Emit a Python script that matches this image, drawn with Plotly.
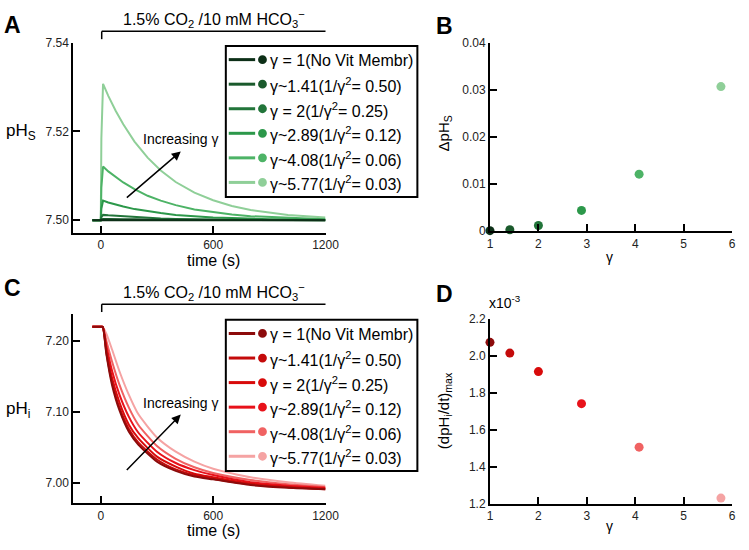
import plotly.graph_objects as go

W, H = 749, 550
FONT = "Arial, Liberation Sans, sans-serif"

# ---------------- data ----------------
gamma_vals = [1, 1.41, 2, 2.89, 4.08, 5.77]
legend_labels = [
    "γ = 1(No Vit Membr)",
    "γ~1.41(1/γ<sup>2</sup>= 0.50)",
    "γ = 2(1/γ<sup>2</sup>= 0.25)",
    "γ~2.89(1/γ<sup>2</sup>= 0.12)",
    "γ~4.08(1/γ<sup>2</sup>= 0.06)",
    "γ~5.77(1/γ<sup>2</sup>= 0.03)",
]
green_colors = ["#0c2f17", "#1a5a2c", "#22753a", "#2c984a", "#4db366", "#8fcf98"]
red_colors = ["#8c0b0b", "#c40a0a", "#d80a0a", "#e8121a", "#f06262", "#f5a3a3"]

# Panel A: surface pH (pHs) vs time
time_a = [-45, 0, 3, 12, 40, 80, 120, 180, 250, 320, 400, 500, 600, 700, 800, 900, 1000, 1100, 1200]
phs_g1 = [7.5, 7.5, 7.5001, 7.5001, 7.5001, 7.5001, 7.5001, 7.5001, 7.5, 7.5, 7.5, 7.5, 7.5, 7.5, 7.5, 7.5, 7.5, 7.5, 7.5]
phs_g141 = [7.5, 7.5, 7.5002, 7.5003, 7.5003, 7.5002, 7.5002, 7.5002, 7.5001, 7.5001, 7.5001, 7.5001, 7.5, 7.5, 7.5, 7.5, 7.5, 7.5, 7.5]
phs_g2 = [7.5, 7.5, 7.5007, 7.5012, 7.5011, 7.501, 7.5008, 7.5007, 7.5005, 7.5004, 7.5003, 7.5002, 7.5002, 7.5001, 7.5001, 7.5001, 7.5, 7.5, 7.5]
phs_g289 = [7.5, 7.5, 7.5026, 7.5044, 7.504, 7.5035, 7.5031, 7.5025, 7.502, 7.5016, 7.5012, 7.5009, 7.5006, 7.5005, 7.5003, 7.5002, 7.5002, 7.5001, 7.5001]
phs_g408 = [7.5, 7.5, 7.5073, 7.5121, 7.511, 7.5097, 7.5085, 7.507, 7.5055, 7.5044, 7.5034, 7.5024, 7.5018, 7.5013, 7.5009, 7.5007, 7.5005, 7.5003, 7.5002]
phs_g577 = [7.5, 7.5, 7.5184, 7.5307, 7.528, 7.5246, 7.5216, 7.5177, 7.5141, 7.5112, 7.5086, 7.5062, 7.5045, 7.5032, 7.5023, 7.5017, 7.5012, 7.5009, 7.5006]

# Panel B: delta pHs vs gamma
delta_phs = [0.0001, 0.0003, 0.0012, 0.0044, 0.0121, 0.0307]

# Panel C: intracellular pH (pHi) vs time
time_c = [-45, 0, 10, 30, 60, 100, 150, 200, 300, 400, 500, 600, 800, 1000, 1200]
phi_g1 = [7.22, 7.22, 7.22, 7.181, 7.138, 7.102, 7.072, 7.054, 7.030, 7.017, 7.009, 7.005, 6.997, 6.993, 6.991]
phi_g141 = [7.22, 7.22, 7.22, 7.183, 7.142, 7.106, 7.076, 7.057, 7.033, 7.019, 7.011, 7.006, 6.998, 6.994, 6.991]
phi_g2 = [7.22, 7.22, 7.22, 7.187, 7.148, 7.113, 7.082, 7.063, 7.037, 7.023, 7.013, 7.008, 6.999, 6.994, 6.992]
phi_g289 = [7.22, 7.22, 7.22, 7.193, 7.158, 7.124, 7.093, 7.071, 7.044, 7.028, 7.018, 7.011, 7.001, 6.996, 6.993]
phi_g408 = [7.22, 7.22, 7.22, 7.200, 7.171, 7.138, 7.106, 7.082, 7.052, 7.034, 7.022, 7.014, 7.004, 6.998, 6.994]
phi_g577 = [7.22, 7.22, 7.22, 7.210, 7.188, 7.157, 7.124, 7.097, 7.064, 7.044, 7.030, 7.020, 7.008, 7.001, 6.996]

# Panel D: max dpHi/dt (x10^-3) vs gamma
dphi_dt_max = [2.073, 2.015, 1.915, 1.742, 1.507, 1.232]

time_ticks = [0, 600, 1200]
phs_ticks = [7.50, 7.52, 7.54]
phs_ticklabels = ["7.50", "7.52", "7.54"]
phi_ticks = [7.00, 7.10, 7.20]
phi_ticklabels = ["7.00", "7.10", "7.20"]
dphs_ticks = [0, 0.01, 0.02, 0.03, 0.04]
dphs_ticklabels = ["0", "0.01", "0.02", "0.03", "0.04"]
rate_ticks = [1.2, 1.4, 1.6, 1.8, 2.0, 2.2]
rate_ticklabels = ["1.2", "1.4", "1.6", "1.8", "2.0", "2.2"]
gamma_ticks = [1, 2, 3, 4, 5, 6]

phs_series = [phs_g1, phs_g141, phs_g2, phs_g289, phs_g408, phs_g577]
phi_series = [phi_g1, phi_g141, phi_g2, phi_g289, phi_g408, phi_g577]

# ---------------- figure ----------------
fig = go.Figure()

def px(x):
    return x / W

def py(y):
    return 1 - y / H

# A traces (lightest first so darkest on top)
for i in reversed(range(6)):
    fig.add_trace(go.Scatter(x=time_a, y=phs_series[i], mode="lines",
                             line=dict(color=green_colors[i], width=2),
                             xaxis="x", yaxis="y", showlegend=False, hoverinfo="skip"))
# B
fig.add_trace(go.Scatter(x=gamma_vals, y=delta_phs, mode="markers",
                         marker=dict(color=green_colors, size=9),
                         xaxis="x2", yaxis="y2", showlegend=False, cliponaxis=False))
# C
for i in reversed(range(6)):
    fig.add_trace(go.Scatter(x=time_c, y=phi_series[i], mode="lines",
                             line=dict(color=red_colors[i], width=2, shape="spline", smoothing=0.6),
                             xaxis="x3", yaxis="y3", showlegend=False, hoverinfo="skip"))
# D
fig.add_trace(go.Scatter(x=gamma_vals, y=dphi_dt_max, mode="markers",
                         marker=dict(color=red_colors, size=9),
                         xaxis="x4", yaxis="y4", showlegend=False, cliponaxis=False))

axis_common = dict(showline=True, linecolor="black", linewidth=2, ticks="inside",
                   ticklen=7, tickwidth=2, tickcolor="black", showgrid=False,
                   zeroline=False, tickfont=dict(family=FONT, size=12, color="#222"))

fig.update_layout(
    width=W, height=H, margin=dict(l=0, r=0, t=0, b=0),
    paper_bgcolor="white", plot_bgcolor="white",
    font=dict(family=FONT, color="black"),
    xaxis=dict(axis_common, domain=[px(72), px(330)], range=[-146.5, 1200],
               tickvals=time_ticks, anchor="y"),
    yaxis=dict(axis_common, domain=[py(232), py(36.5)], range=[7.4971, 7.54],
               tickvals=phs_ticks, ticktext=phs_ticklabels, anchor="x"),
    xaxis2=dict(axis_common, domain=[px(498.3), px(746)], range=[1, 6],
                tickvals=gamma_ticks, anchor="y2"),
    yaxis2=dict(axis_common, domain=[py(230), py(36.7)], range=[0, 0.04],
                tickvals=dphs_ticks, ticktext=dphs_ticklabels, anchor="x2"),
    xaxis3=dict(axis_common, domain=[px(72), px(330)], range=[-146.5, 1200],
                tickvals=time_ticks, anchor="y3"),
    yaxis3=dict(axis_common, domain=[py(509.3), py(315)], range=[6.9712, 7.238],
                tickvals=phi_ticks, ticktext=phi_ticklabels, anchor="x3"),
    xaxis4=dict(axis_common, domain=[px(498.3), px(746)], range=[1, 6],
                tickvals=gamma_ticks, anchor="y4"),
    yaxis4=dict(axis_common, domain=[py(510), py(320)], range=[1.2, 2.2],
                tickvals=rate_ticks, ticktext=rate_ticklabels, anchor="x4"),
)

shapes = []
annotations = []

def ann(x, y, text, size, xanchor="center", yanchor="middle", bold=False, angle=0, color="black"):
    t = f"<b>{text}</b>" if bold else text
    annotations.append(dict(x=px(x), y=py(y), xref="paper", yref="paper", text=t,
                            showarrow=False, xanchor=xanchor, yanchor=yanchor,
                            textangle=angle, font=dict(family=FONT, size=size, color=color)))

def line(x0, y0, x1, y1, color="black", width=1.5):
    shapes.append(dict(type="line", xref="paper", yref="paper", x0=px(x0), y0=py(y0),
                       x1=px(x1), y1=py(y1), line=dict(color=color, width=width)))

title = "1.5% CO<sub>2</sub> /10 mM HCO<sub>3</sub><sup>−</sup>"
for top, colors in ((0, green_colors), (280, red_colors)):
    # bracket + title
    ann(216, 12 + top, title, 16)
    line(101, 25 + top, 330, 25 + top)
    line(101, 25 + top, 101, 33 + top)
    # legend box
    by0 = 40 if top == 0 else 321
    shapes.append(dict(type="rect", xref="paper", yref="paper",
                       x0=px(228), x1=px(424), y0=py(by0 + 155), y1=py(by0),
                       line=dict(color="black", width=2), fillcolor="rgba(0,0,0,0)"))
    for k in range(6):
        ry = by0 + 14 + 25.2 * k
        line(231, ry, 258, ry, color=colors[k], width=3)
        shapes.append(dict(type="circle", xref="paper", yref="paper",
                           x0=px(261), x1=px(270), y0=py(ry + 4.5), y1=py(ry - 4.5),
                           fillcolor=colors[k], line=dict(color=colors[k], width=0)))
        ann(271, ry + 1, legend_labels[k], 16, xanchor="left")

# panel letters
ann(10, 18, "A", 23, bold=True)
ann(452, 19, "B", 23, bold=True)
ann(10, 288, "C", 23, bold=True)
ann(452, 294, "D", 23, bold=True)

# axis titles
ann(18, 128, "pH<sub>S</sub>", 17)
ann(215, 260, "time (s)", 16)
ann(15, 414, "pH<sub>i</sub>", 17)
ann(215, 537, "time (s)", 16)
ann(452, 130, "ΔpH<sub>S</sub>", 15, angle=-90)
ann(621, 257, "γ", 14)
ann(452, 414, "(dpH<sub>i</sub>/dt)<sub>max</sub>", 15, angle=-90)
ann(621, 533, "γ", 14)
ann(495, 303, "x10<sup>-3</sup>", 14, xanchor="left")

# Increasing gamma arrows
annotations.append(dict(x=427, y=7.5155, ax=131, ay=7.5048, xref="x", yref="y",
                        axref="x", ayref="y", showarrow=True, arrowhead=2, arrowsize=1.2,
                        arrowwidth=1.5, arrowcolor="black", text=""))
annotations.append(dict(x=424, y=7.5184, xref="x", yref="y", text="Increasing γ",
                        showarrow=False, font=dict(family=FONT, size=14, color="black")))
annotations.append(dict(x=427, y=7.0962, ax=131, ay=7.016, xref="x3", yref="y3",
                        axref="x3", ayref="y3", showarrow=True, arrowhead=2, arrowsize=1.2,
                        arrowwidth=1.5, arrowcolor="black", text=""))
annotations.append(dict(x=424, y=7.112, xref="x3", yref="y3", text="Increasing γ",
                        showarrow=False, font=dict(family=FONT, size=14, color="black")))

fig.update_layout(shapes=shapes, annotations=annotations)

post = (
    "document.documentElement.style.margin='0';"
    "document.documentElement.style.padding='0';"
    "document.documentElement.style.overflow='hidden';"
    "document.body.style.margin='0';"
    "document.body.style.padding='0';"
    "document.body.style.overflow='hidden';"
    "var g=document.getElementById('{plot_id}');"
    "g.style.position='fixed';g.style.left='0px';g.style.top='0px';"
)
fig.write_html("out.html", config={"displayModeBar": False}, post_script=post)
